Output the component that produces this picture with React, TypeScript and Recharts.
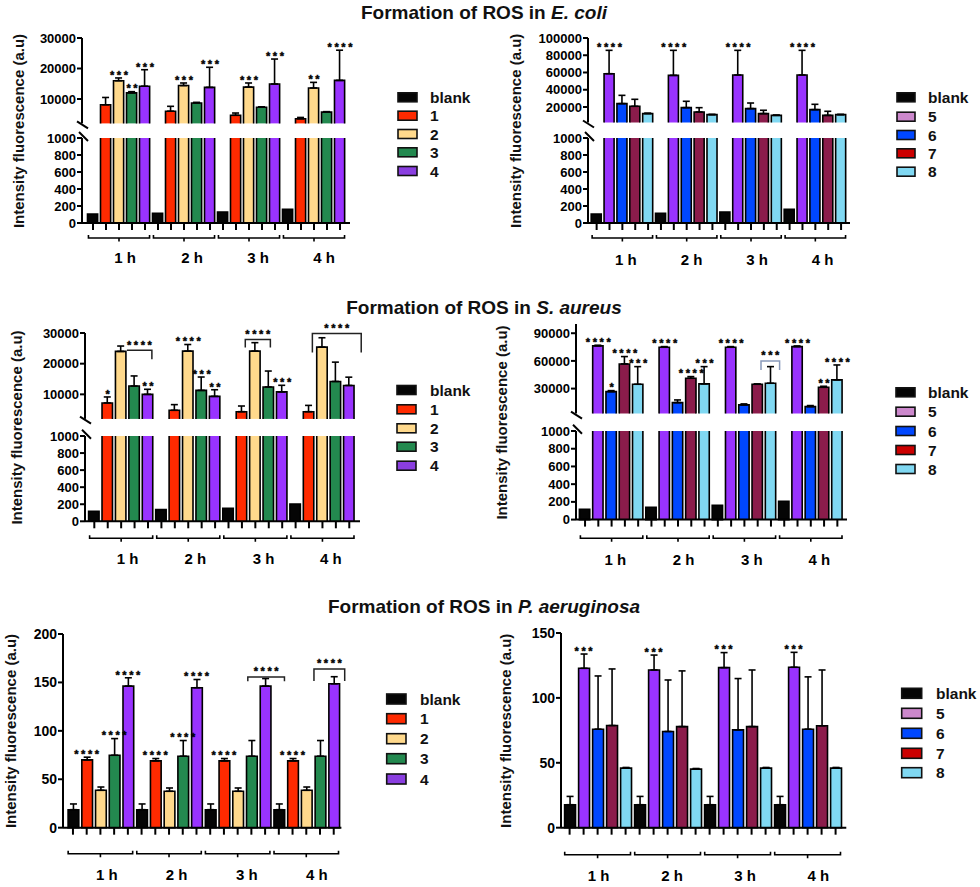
import React from 'react';
import { ComposedChart, Bar, Line, XAxis, YAxis, ErrorBar } from 'recharts';

const FONT = 'Arial, "Liberation Sans", Helvetica, sans-serif';

const timeLabels = ['1 h', '2 h', '3 h', '4 h'];
const seriesLeft = ['blank', '1', '2', '3', '4'];
const seriesRight = ['blank', '5', '6', '7', '8'];

const barColorsLeft = ['#050505', '#ff2a00', '#ffd98c', '#23894f', '#9933ff'];
const barColorsRight = ['#050505', '#9933ff', '#0047ff', '#8b1c4b', '#80d8f2'];
const legendColorsLeft = ['#050505', '#ff2a00', '#ffd98c', '#23894f', '#8a3ee0'];
const legendColorsRight = ['#050505', '#cc88cc', '#0047ff', '#cc0000', '#80d8f2'];

const NONE = ['', '', '', ''];

// ---------- E. coli ----------
const ecoliBlank = [105, 115, 130, 160];
const ecoliC1 = [8100, 6000, 4650, 3500];
const ecoliC1Err = [2400, 1600, 750, 450];
const ecoliC2 = [16000, 14400, 13900, 13600];
const ecoliC2Err = [900, 850, 1350, 1850];
const ecoliC3 = [12000, 8700, 7300, 5700];
const ecoliC3Err = [400, 200, 150, 150];
const ecoliC4 = [14200, 13800, 14900, 16100];
const ecoliC4Err = [5400, 6600, 8200, 9900];
const ecoliC5 = [58600, 56700, 57100, 57100];
const ecoliC5Err = [27100, 29000, 28600, 28600];
const ecoliC6 = [23900, 19200, 18100, 16900];
const ecoliC6Err = [9600, 7400, 6500, 6200];
const ecoliC7 = [20800, 14200, 12300, 10300];
const ecoliC7Err = [8100, 5000, 3900, 4700];
const ecoliC8 = [12300, 11100, 10300, 11100];
const ecoliC8Err = [500, 300, 300, 300];
const ecoliStarsLeft = [NONE, NONE, ['***', '***', '***', '**'], ['**', '', '', ''], ['***', '***', '***', '****']];
const ecoliStarsRight = [NONE, ['****', '****', '****', '****'], NONE, NONE, NONE];

// ---------- S. aureus ----------
const aureusBlank = [117, 137, 152, 203];
const aureusC1 = [7200, 4800, 4350, 4350];
const aureusC1Err = [1950, 1850, 1850, 2050];
const aureusC2 = [24000, 24100, 24100, 25400];
const aureusC2Err = [1750, 2150, 2750, 3050];
const aureusC3 = [12700, 11300, 12400, 14200];
const aureusC3Err = [3300, 4350, 5200, 6300];
const aureusC4 = [10000, 9350, 10800, 12900];
const aureusC4Err = [1650, 2150, 2150, 2700];
const aureusBlankR = [117, 139, 162, 207];
const aureusC5 = [76300, 74800, 74800, 75500];
const aureusC5Err = [700, 700, 700, 700];
const aureusC6 = [26700, 14800, 12300, 10500];
const aureusC6Err = [1100, 2900, 1100, 1100];
const aureusC7 = [56700, 41200, 34700, 31400];
const aureusC7Err = [8000, 1800, 300, 1100];
const aureusC8 = [34700, 35100, 35800, 39400];
const aureusC8Err = [19100, 18700, 18000, 16200];
const aureusStarsLeft = [NONE, ['*', '', '', ''], ['', '****', '', ''], ['', '***', '', ''], ['**', '**', '***', '']];
const aureusStarsRight = [NONE, ['****', '****', '****', '****'], ['*', '', '', ''], ['****', '****', '', '**'], ['***', '***', '', '****']];
const aureusBracketsLeft = [
  { t: 0, s: 2, y: 24400, from: 0.43, to: 2.29, dropL: 0, dropR: 9, text: '****', color: '#222' },
  { t: 2, s: 2, y: 27850, from: -0.75, to: 1.12, dropL: 8, dropR: 8, text: '****', color: '#222' },
  { t: 3, s: 2, y: 29800, from: -0.75, to: 2.89, dropL: 19, dropR: 19, text: '****', color: '#222' },
];
const aureusBracketsRight = [
  { t: 2, s: 4, y: 60000, from: -0.75, to: 0.65, dropL: 9, dropR: 9, text: '***', color: '#8899bb' },
];

// ---------- P. aeruginosa ----------
const aerugBlank = [18.6, 18.6, 18.6, 18.6];
const aerugBlankErr = [5.9, 5.9, 5.9, 5.9];
const aerugC1 = [70, 69, 69, 69];
const aerugC1Err = [2.8, 2.4, 2.4, 2.4];
const aerugC2 = [38.6, 37.6, 37.6, 38.6];
const aerugC2Err = [3.4, 3.4, 3.4, 3.4];
const aerugC3 = [74.8, 73.8, 73.8, 73.8];
const aerugC3Err = [17.2, 16.2, 16.2, 16.2];
const aerugC4 = [146.2, 144.5, 146.2, 148.6];
const aerugC4Err = [8.6, 8.5, 7.8, 7.3];
const aerugBlankR = [17.7, 17.7, 17.7, 17.7];
const aerugBlankRErr = [6.4, 6.4, 6.4, 6.4];
const aerugC5 = [122.8, 121.5, 123.3, 123.6];
const aerugC5Err = [11, 11.5, 11.6, 11.5];
const aerugC6 = [75.9, 74.1, 75.4, 75.9];
const aerugC6Err = [41, 39.7, 39.5, 40.3];
const aerugC7 = [78.7, 77.9, 77.9, 78.5];
const aerugC7Err = [43.6, 42.9, 43.6, 43];
const aerugC8 = [45.9, 45.1, 45.9, 45.9];
const aerugC8Err = [0.5, 0.5, 0.5, 0.5];
const aerugStarsLeft = [NONE, ['****', '****', '****', '****'], NONE, ['****', '****', '', ''], ['****', '****', '', '']];
const aerugStarsRight = [NONE, ['***', '***', '***', '***'], NONE, NONE, NONE];
const aerugBracketsLeft = [
  { t: 2, s: 4, y: 155.7, from: -1.26, to: 1.41, dropL: 4.3, dropR: 4.3, text: '****', color: '#222' },
  { t: 3, s: 4, y: 163.9, from: -1.44, to: 0.8, dropL: 12, dropR: 12, text: '****', color: '#222' },
];

function buildRows(values: number[][], errors: (number[] | null)[], stars: string[][], brackets: any[], split?: { low: number; high: number }) {
  const rows: any[] = [];
  for (let t = 0; t < 4; t++) {
    for (let s = 0; s < 5; s++) {
      const v = values[s][t];
      const e = errors[s] ? (errors[s] as number[])[t] : 0;
      const star = stars[s][t];
      const row: any = { key: `${t}-${s}`, t, s, v, err: e > 0 ? [0, e] : null, star, starY: star ? v + e : null, br: null, brY: null };
      const b = brackets.find((q) => q.t === t && q.s === s);
      if (b) { row.br = b; row.brY = b.y; }
      if (split) {
        row.top = v > split.high ? v : null;
        row.bot = Math.min(v, split.low);
        row.capped = v > split.low;
        if (v <= split.high) row.err = null;
      }
      rows.push(row);
    }
  }
  return rows;
}

const rowsA = buildRows([ecoliBlank, ecoliC1, ecoliC2, ecoliC3, ecoliC4], [null, ecoliC1Err, ecoliC2Err, ecoliC3Err, ecoliC4Err], ecoliStarsLeft, [], { low: 1000, high: 2000 });
const rowsB = buildRows([ecoliBlank, ecoliC5, ecoliC6, ecoliC7, ecoliC8], [null, ecoliC5Err, ecoliC6Err, ecoliC7Err, ecoliC8Err], ecoliStarsRight, [], { low: 1000, high: 2000 });
const rowsC = buildRows([aureusBlank, aureusC1, aureusC2, aureusC3, aureusC4], [null, aureusC1Err, aureusC2Err, aureusC3Err, aureusC4Err], aureusStarsLeft, aureusBracketsLeft, { low: 1000, high: 2000 });
const rowsD = buildRows([aureusBlankR, aureusC5, aureusC6, aureusC7, aureusC8], [null, aureusC5Err, aureusC6Err, aureusC7Err, aureusC8Err], aureusStarsRight, aureusBracketsRight, { low: 1000, high: 3000 });
const rowsE = buildRows([aerugBlank, aerugC1, aerugC2, aerugC3, aerugC4], [aerugBlankErr, aerugC1Err, aerugC2Err, aerugC3Err, aerugC4Err], aerugStarsLeft, aerugBracketsLeft);
const rowsF = buildRows([aerugBlankR, aerugC5, aerugC6, aerugC7, aerugC8], [aerugBlankRErr, aerugC5Err, aerugC6Err, aerugC7Err, aerugC8Err], aerugStarsRight, []);

const lowTicks = [0, 200, 400, 600, 800, 1000];

const STAR_FONT = 11;
const STAR_SPACING = 2.6;

function Stars({ x, y, text }: any) {
  return (
    <text x={x + STAR_SPACING / 2} y={y} textAnchor="middle" fontFamily={FONT} fontSize={STAR_FONT} fontWeight="bold" letterSpacing={STAR_SPACING} fill="#000" stroke="#000" strokeWidth={0.4}>
      {text}
    </text>
  );
}

function Segment(p: any) {
  const YW = 70, RM = 14, PADT = 30, BM = 4;
  const XH = p.showX ? 62 : 0;
  const plotH = p.yBot - p.yTop;
  const plotW = p.x1 - p.x0;
  const W = YW + plotW + RM;
  const H = PADT + plotH + XH + BM;
  const band = (plotW - p.padL - p.padR) / 20;
  const axisY = PADT + plotH;

  const shape = (s: any) => {
    const { x, y, width, height, payload } = s;
    if (payload == null || payload[p.valueKey] == null || !(height > 0)) return <g />;
    const fill = p.colors[payload.s];
    let d: string;
    if (p.mode === 'top') d = `M${x},${y + height}V${y}H${x + width}V${y + height}`;
    else if (p.mode === 'bottom' && payload.capped) d = `M${x},${y}V${y + height}M${x + width},${y}V${y + height}`;
    else d = `M${x},${y + height}V${y}H${x + width}V${y + height}Z`;
    return (
      <g>
        <rect x={x} y={y} width={width} height={height} fill={fill} />
        <path d={d} fill="none" stroke="#000" strokeWidth={1.6} />
      </g>
    );
  };

  const starDot = (d: any) => {
    const { cx, cy, payload, index } = d;
    if (cy == null || !payload || !payload.star) return <g key={`s${index}`} />;
    return (
      <g key={`s${index}`}>
        <Stars x={cx} y={cy + 0.8} text={payload.star} />
      </g>
    );
  };

  const bracketDot = (d: any) => {
    const { cx, cy, payload, index } = d;
    if (cy == null || !payload || !payload.br) return <g key={`b${index}`} />;
    const b = payload.br;
    const xl = cx + b.from * band;
    const xr = cx + b.to * band;
    return (
      <g key={`b${index}`}>
        <path d={`M${xl},${cy + b.dropL}V${cy}H${xr}V${cy + b.dropR}`} fill="none" stroke={b.color} strokeWidth={1.5} />
        <Stars x={(xl + xr) / 2} y={cy - 1.5} text={b.text} />
      </g>
    );
  };

  const xTick = (d: any) => {
    const { x, index } = d;
    if (index % 5 !== 2) return <g />;
    const g = Math.floor(index / 5);
    const half = 2.35 * band;
    const yb = axisY + p.bracketDy;
    return (
      <g>
        <path d={`M${x - half},${yb - 3}V${yb}H${x + half}V${yb - 3}M${x},${yb}V${yb + 3.5}`} fill="none" stroke="#000" strokeWidth={1.6} />
        <text x={x + p.labelDx[g]} y={axisY + p.labelDy} textAnchor="middle" fontFamily={FONT} fontSize={15} fontWeight="bold" fill="#000">
          {timeLabels[g]}
        </text>
      </g>
    );
  };

  return (
    <div style={{ position: 'absolute', left: p.x0 - YW, top: p.yTop - PADT }}>
      <ComposedChart width={W} height={H} data={p.rows} margin={{ top: PADT, right: RM, bottom: BM, left: 0 }}>
        <XAxis
          dataKey="key"
          type="category"
          hide={!p.showX}
          height={XH}
          interval={0}
          padding={{ left: p.padL, right: p.padR }}
          axisLine={{ stroke: '#000', strokeWidth: 2 }}
          tickLine={{ stroke: '#000', strokeWidth: 2 }}
          tickSize={7}
          tickMargin={0}
          tick={xTick}
        />
        <YAxis
          type="number"
          width={YW}
          domain={p.domain}
          ticks={p.ticks}
          interval={0}
          axisLine={{ stroke: '#000', strokeWidth: 2 }}
          tickLine={{ stroke: '#000', strokeWidth: 2 }}
          tickSize={5}
          tickMargin={1}
          tick={{ fontSize: p.tickFont, fontWeight: 'bold', fill: '#000', fontFamily: FONT }}
        />
        <Bar dataKey={p.valueKey} barSize={band * 0.78} isAnimationActive={false} shape={shape} fill="#000">
          {p.errors ? <ErrorBar dataKey="err" width={3.5} stroke="#000" strokeWidth={1.6} direction="y" /> : null}
        </Bar>
        {p.stars ? <Line dataKey="starY" stroke="none" dot={starDot} activeDot={false} isAnimationActive={false} legendType="none" /> : null}
        {p.stars ? <Line dataKey="brY" stroke="none" dot={bracketDot} activeDot={false} isAnimationActive={false} legendType="none" /> : null}
      </ComposedChart>
    </div>
  );
}

function BrokenPanel(p: any) {
  return (
    <>
      <Segment rows={p.rows} valueKey="top" mode="top" x0={p.x0} x1={p.x1} padL={p.padL} padR={p.padR} yTop={p.topY0} yBot={p.topY1} domain={p.topDomain} ticks={p.topTicks} colors={p.colors} tickFont={13} errors stars showX={false} />
      <Segment rows={p.rows} valueKey="bot" mode="bottom" x0={p.x0} x1={p.x1} padL={p.padL} padR={p.padR} yTop={p.botY0} yBot={p.botY1} domain={[0, 1000]} ticks={lowTicks} colors={p.colors} tickFont={13} errors={false} stars={false} showX bracketDy={p.bracketDy} labelDy={p.labelDy} labelDx={p.labelDx} />
    </>
  );
}

function Legend({ x, labelX, ys, labels, colors, w, h }: any) {
  return (
    <g>
      {labels.map((lab: string, i: number) => (
        <g key={lab}>
          <rect x={x} y={ys[i] - h / 2} width={w} height={h} fill={colors[i]} stroke="#111" strokeWidth={1.6} />
          <text x={labelX} y={ys[i] + 5.5} fontFamily={FONT} fontSize={15.5} fontWeight="bold" fill="#111">{lab}</text>
        </g>
      ))}
    </g>
  );
}

function YLabel({ x, y }: any) {
  return (
    <text transform={`translate(${x},${y}) rotate(-90)`} textAnchor="middle" dominantBaseline="central" fontFamily={FONT} fontSize={15} fontWeight="bold" fill="#111">
      Intensity fluorescence (a.u)
    </text>
  );
}

function BreakMarks({ x, yA, yB }: any) {
  return (
    <g stroke="#000" strokeWidth={2}>
      <line x1={x - 5} y1={yA - 2} x2={x + 6} y2={yA + 5} />
      <line x1={x - 3} y1={yB - 6} x2={x + 6} y2={yB + 3} />
    </g>
  );
}

function Title({ y, italic }: any) {
  return (
    <text x={484} y={y} textAnchor="middle" fontFamily={FONT} fontSize={19} fontWeight="bold" fill="#111">
      Formation of ROS in <tspan fontStyle="italic">{italic}</tspan>
    </text>
  );
}

export default function App() {
  return (
    <div style={{ position: 'absolute', left: 0, top: 0, width: 980, height: 887, background: '#fff', overflow: 'hidden' }}>
      <BrokenPanel rows={rowsA} x0={82} x1={350} padL={4.5} padR={3.5} topY0={38} topY1={123.4} topDomain={[2000, 30000]} topTicks={[10000, 20000, 30000]} botY0={138} botY1={223} colors={barColorsLeft} bracketDy={15} labelDy={40.4} labelDx={[6, 8, 9, 10]} />
      <BrokenPanel rows={rowsB} x0={588} x1={850} padL={2.2} padR={2.5} topY0={38} topY1={122.5} topDomain={[2000, 100000]} topTicks={[20000, 40000, 60000, 80000, 100000]} botY0={138} botY1={223} colors={barColorsRight} bracketDy={15} labelDy={42.4} labelDx={[3.5, 4.8, 6.2, 7.2]} />
      <BrokenPanel rows={rowsC} x0={85} x1={360} padL={2.6} padR={4} topY0={332.7} topY1={418.6} topDomain={[2000, 30000]} topTicks={[10000, 20000, 30000]} botY0={435.7} botY1={521} colors={barColorsLeft} bracketDy={17} labelDy={42.4} labelDx={[6.5, 7.2, 8.2, 8.5]} />
      <BrokenPanel rows={rowsD} x0={576} x1={847} padL={2.4} padR={3} topY0={324.1} topY1={413.6} topDomain={[3000, 100000]} topTicks={[30000, 60000, 90000]} botY0={430.7} botY1={519.3} colors={barColorsRight} bracketDy={18.7} labelDy={45.1} labelDx={[3.8, 5.5, 7.5, 8.5]} />
      <Segment rows={rowsE} valueKey="v" mode="full" x0={63.3} x1={341.7} padL={3.1} padR={0.8} yTop={634.3} yBot={828} domain={[0, 200]} ticks={[0, 50, 100, 150, 200]} colors={barColorsLeft} tickFont={14} errors stars showX bracketDy={26} labelDy={52.4} labelDx={[6.5, 7.5, 9.2, 10.5]} />
      <Segment rows={rowsF} valueKey="v" mode="full" x0={560.7} x1={846} padL={1.6} padR={3.7} yTop={633.3} yBot={828} domain={[0, 150]} ticks={[0, 50, 100, 150]} colors={barColorsRight} tickFont={14} errors stars showX bracketDy={27} labelDy={53.4} labelDx={[1, 4.4, 7.5, 10.7]} />

      <svg width={980} height={887} style={{ position: 'absolute', left: 0, top: 0, pointerEvents: 'none' }}>
        <Title y={18.5} italic="E. coli" />
        <Title y={314} italic="S. aureus" />
        <Title y={612.7} italic="P. aeruginosa" />

        <YLabel x={18.3} y={131} />
        <YLabel x={515.8} y={130.8} />
        <YLabel x={16.3} y={427.5} />
        <YLabel x={501.2} y={422.5} />
        <YLabel x={10.7} y={731} />
        <YLabel x={505.5} y={730.8} />

        <BreakMarks x={82} yA={123.4} yB={138} />
        <BreakMarks x={588} yA={122.5} yB={138} />
        <BreakMarks x={85} yA={418.6} yB={435.7} />
        <BreakMarks x={576} yA={413.6} yB={430.7} />

        <Legend x={398} labelX={430} ys={[97.3, 115.7, 134, 152.3, 171]} labels={seriesLeft} colors={legendColorsLeft} w={19} h={9} />
        <Legend x={897} labelX={928} ys={[97.3, 116.7, 135, 153.3, 171.7]} labels={seriesRight} colors={legendColorsRight} w={18} h={9} />
        <Legend x={397} labelX={430} ys={[390, 409.3, 428.3, 446.7, 465.7]} labels={seriesLeft} colors={legendColorsLeft} w={19} h={9} />
        <Legend x={896} labelX={928} ys={[392.3, 411.7, 431, 450, 469]} labels={seriesRight} colors={legendColorsRight} w={19} h={9} />
        <Legend x={386.7} labelX={420} ys={[699, 718.7, 738.7, 758.7, 779]} labels={seriesLeft} colors={legendColorsLeft} w={19.3} h={10} />
        <Legend x={901.7} labelX={936} ys={[693.3, 713.3, 733.3, 753.3, 772.7]} labels={seriesRight} colors={legendColorsRight} w={20} h={10} />
      </svg>
    </div>
  );
}
